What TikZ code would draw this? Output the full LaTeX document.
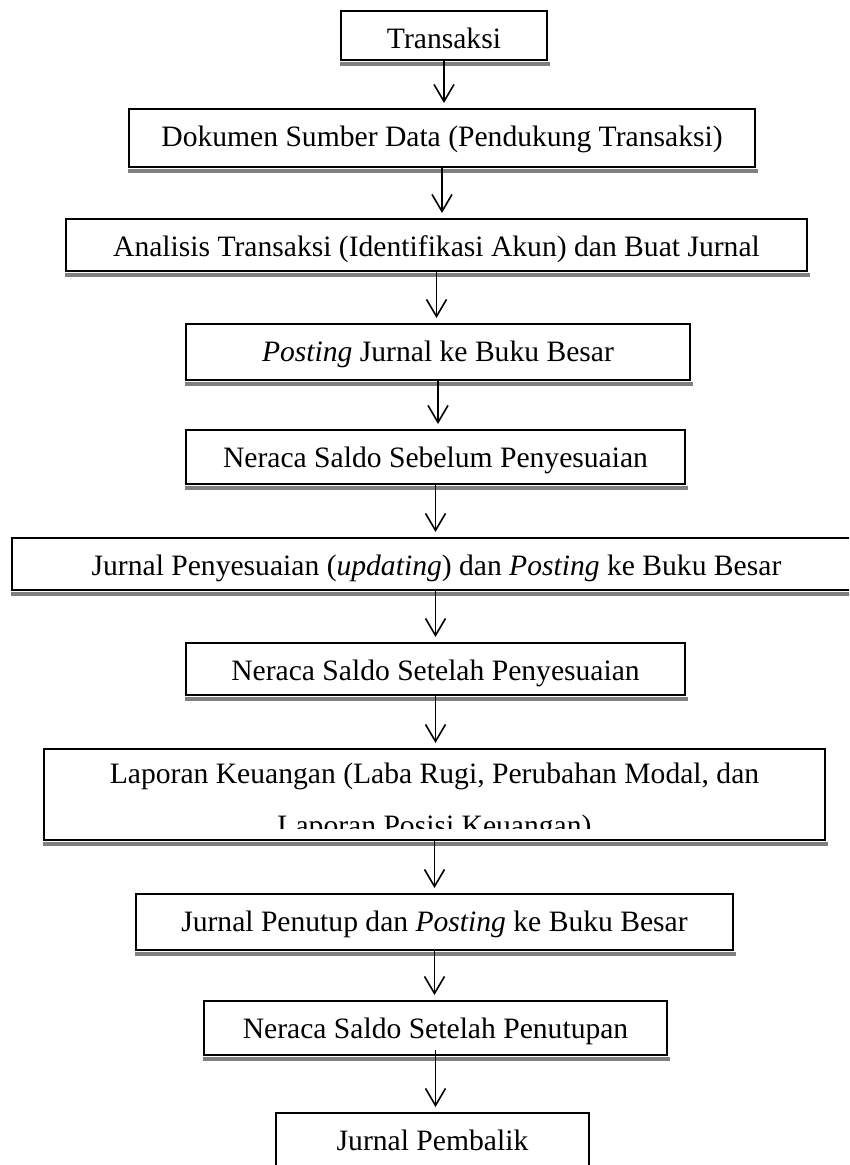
\documentclass[tikz,border=0pt]{standalone}
\usepackage{fontspec}
\setmainfont{Liberation Serif}
\usetikzlibrary{arrows.meta}

\tikzset{
    box/.style={draw, line width=2pt, anchor=north west, inner sep=0pt, text height=37pt},
    strip/.style={fill=black!50},
    flow/.style={-{Straight Barb[length=17pt,width=20pt]}, line width=1.6pt, shorten >=5pt},
}

\begin{document}
\begin{tikzpicture}[x=1pt, y=-1pt, font=\fontsize{29.6}{52}\selectfont]
    \useasboundingbox (0,0) rectangle (849,1165);
    \clip (0,0) rectangle (849,1165);

    \node[box, minimum width=206pt, text depth=12pt] (b1) at (340,10) {Transaksi};
    \node[box, minimum width=626pt, text depth=21pt] (b2) at (128,108) {Dokumen Sumber Data (Pendukung Transaksi)};
    \node[box, minimum width=741pt, text depth=15pt] (b3) at (65,218) {Analisis Transaksi (Identifikasi Akun) dan Buat Jurnal};
    \node[box, minimum width=504pt, text depth=19pt] (b4) at (185,323) {\textit{Posting} Jurnal ke Buku Besar};
    \node[box, minimum width=499pt, text depth=17pt] (b5) at (185,429) {Neraca Saldo Sebelum Penyesuaian};
    \node[box, minimum width=849pt, text depth=15pt] (b6) at (11,537) {Jurnal Penyesuaian (\textit{updating}) dan \textit{Posting} ke Buku Besar};
    \node[box, minimum width=499pt, text depth=15pt] (b7) at (185,642) {Neraca Saldo Setelah Penyesuaian};
    \node[box, minimum width=781pt, text depth=54pt] (b8) at (43,748) {};
    \begin{scope} % second line is cut off by the box
        \clip (43,748) rectangle (824,828);
        \node[anchor=north, inner sep=0pt, text height=35pt] (b8t) at (b8.north)
            {\begin{tabular}[t]{@{}c@{}}Laporan Keuangan (Laba Rugi, Perubahan Modal, dan\\Laporan Posisi Keuangan)\end{tabular}};
    \end{scope}
    \node[box, minimum width=597pt, text depth=19pt] (b9) at (135,893) {Jurnal Penutup dan \textit{Posting} ke Buku Besar};
    \node[box, minimum width=463pt, text depth=17pt] (b10) at (203,1000) {Neraca Saldo Setelah Penutupan};
    \node[box, minimum width=313pt, text depth=19pt] (b11) at (275,1112) {Jurnal Pembalik};

    % shadow strips
    \foreach \b in {b1,b2,b3,b4,b5,b6,b7,b8,b9,b10,b11}
        \fill[strip] ([shift={(0,0.5)}]\b.south west) rectangle ([shift={(2,4.5)}]\b.south east);

    % arrows
    \draw[flow] (b1.south) -- (b1.south |- b2.north);
    \draw[flow] (b2.south) -- (b2.south |- b3.north);
    \draw[flow] (b3.south) -- (b3.south |- b4.north);
    \draw[flow] (b4.south) -- (b4.south |- b5.north);
    \draw[flow] (b5.south) -- (b5.south |- b6.north);
    \draw[flow] (b5.south |- b6.south) -- (b5.south |- b7.north);
    \draw[flow] (b7.south) -- (b7.south |- b8.north);
    \draw[flow] (b8.south) -- (b8.south |- b9.north);
    \draw[flow] (b9.south) -- (b9.south |- b10.north);
    \draw[flow] ([yshift=6pt]b10.south) -- (b10.south |- b11.north);
\end{tikzpicture}
\end{document}
